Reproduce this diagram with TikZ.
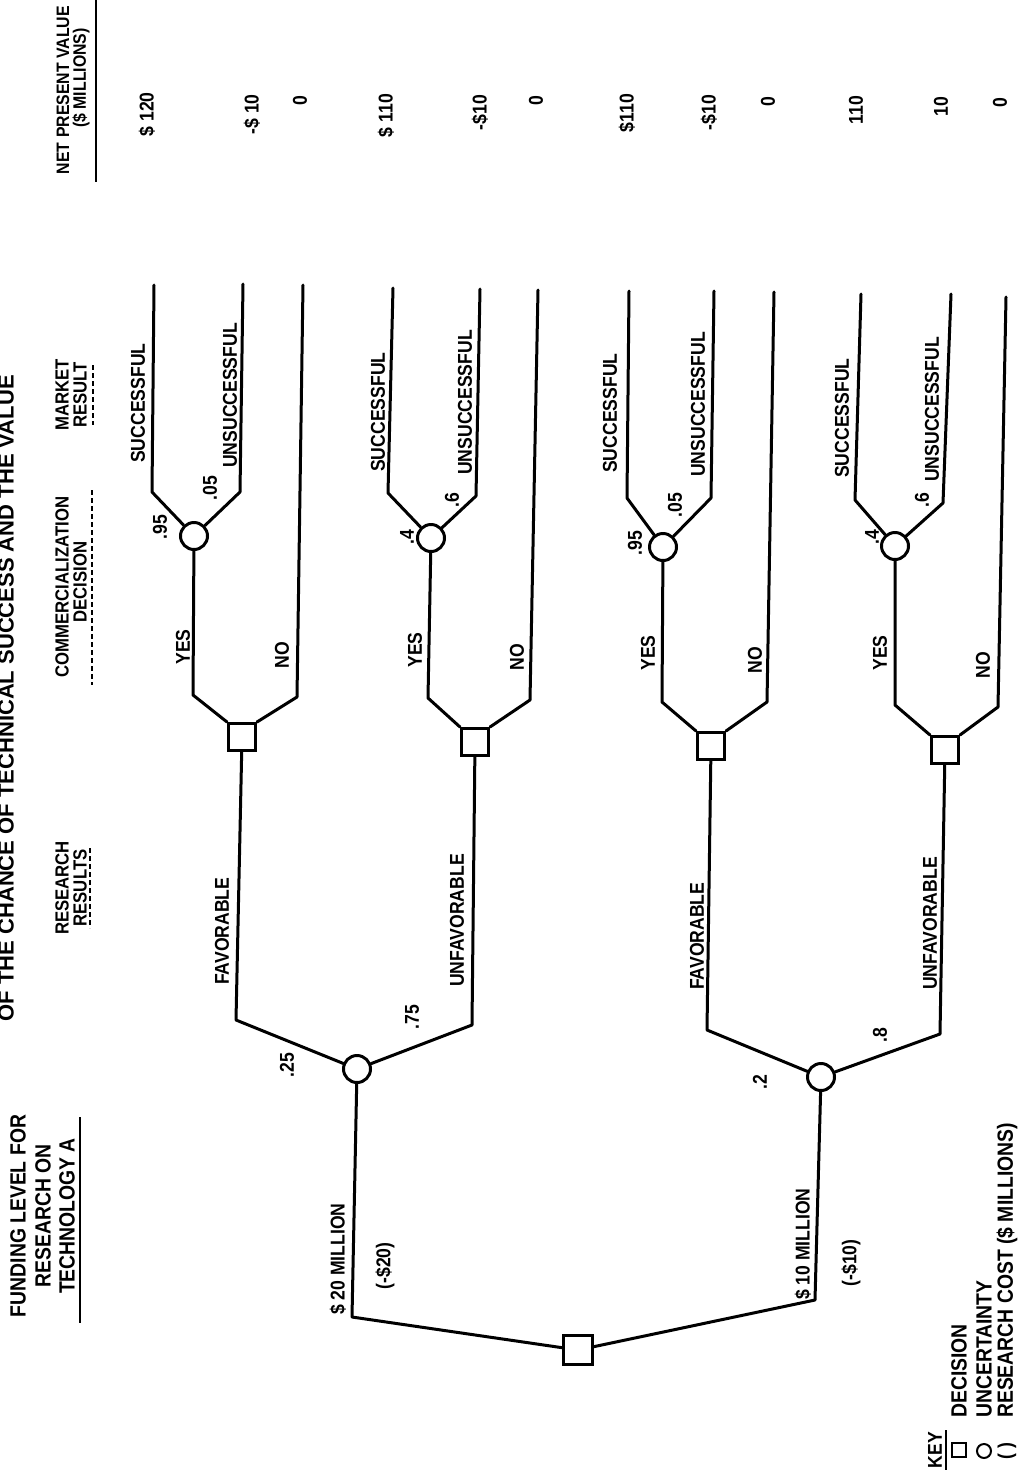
\documentclass[tikz,border=0pt]{standalone}
\usepackage{fontspec}
\newfontfamily\lbl{Liberation Sans}[FakeStretch=0.88]
\newfontfamily\ttl{Liberation Sans}
\begin{document}
\begin{tikzpicture}[x=1pt,y=-1pt,
  ln/.style={line width=3pt,line join=round,line cap=round},
  dec/.style={draw,line width=3pt,minimum size=27pt,inner sep=0pt,fill=white},
  unc/.style={draw,circle,line width=3pt,minimum size=27pt,inner sep=0pt,fill=white},
  txt/.style={rotate=90,inner sep=0pt,font=\lbl\bfseries\fontsize{20}{22}\selectfont},
  hdr/.style={txt,font=\lbl\bfseries\fontsize{19}{21}\selectfont},
  nhdr/.style={txt,font=\lbl\bfseries\fontsize{18}{20}\selectfont},
  fhdr/.style={txt,font=\lbl\bfseries\fontsize{22}{24}\selectfont},
  ttltxt/.style={txt,font=\ttl\bfseries\fontsize{22}{24}\selectfont},
  keytxt/.style={txt,font=\lbl\bfseries\fontsize{22}{24}\selectfont},
  ul/.style={line width=1.5pt},
  dul/.style={line width=1.3pt,dash pattern=on 5pt off 3pt},
]
\useasboundingbox[fill=white] (0,0) rectangle (1023,1473);

% ---- nodes ----
\node[dec,minimum size=29pt] (R) at (578,1350) {};
\node[unc] (A) at (357,1069) {};
\node[unc] (B) at (821,1077) {};
\node[dec] (Q1) at (242,737) {};
\node[dec] (Q2) at (475,742) {};
\node[dec] (Q3) at (711,746) {};
\node[dec] (Q4) at (945,750) {};
\node[unc] (M1) at (194,536) {};
\node[unc] (M2) at (431,538) {};
\node[unc] (M3) at (663,547) {};
\node[unc] (M4) at (895,546) {};

% ---- coordinates ----
\coordinate (a0) at (352,1317);
\coordinate (b0) at (815,1300);
\coordinate (fa) at (236,1020);
\coordinate (ua) at (472,1025);
\coordinate (fb) at (707,1030);
\coordinate (ub) at (940,1034);
\coordinate (y1) at (193,695); \coordinate (n1) at (297,697); \coordinate (n1t) at (303,285);
\coordinate (s1) at (152,492); \coordinate (s1t) at (154,285);
\coordinate (u1) at (240,492); \coordinate (u1t) at (243,284);
\coordinate (y2) at (428,698); \coordinate (n2) at (530,700); \coordinate (n2t) at (538,290);
\coordinate (s2) at (388,493); \coordinate (s2t) at (393,288);
\coordinate (u2) at (476,496); \coordinate (u2t) at (480,289);
\coordinate (y3) at (662,702); \coordinate (n3) at (767,702); \coordinate (n3t) at (774,292);
\coordinate (s3) at (627,498); \coordinate (s3t) at (629,291);
\coordinate (u3) at (711,498); \coordinate (u3t) at (714,291);
\coordinate (y4) at (895,705); \coordinate (n4) at (998,707); \coordinate (n4t) at (1006,297);
\coordinate (s4) at (855,500); \coordinate (s4t) at (861,294);
\coordinate (u4) at (943,503); \coordinate (u4t) at (951,294);

% ---- connectors ----
\draw[ln] (R) -- (a0) -- (A);
\draw[ln] (R) -- (b0) -- (B);
\draw[ln] (A) -- (fa) -- (Q1);
\draw[ln] (A) -- (ua) -- (Q2);
\draw[ln] (B) -- (fb) -- (Q3);
\draw[ln] (B) -- (ub) -- (Q4);
\draw[ln] (Q1.north west) -- (y1) -- (M1);
\draw[ln] (Q1.north east) -- (n1) -- (n1t);
\draw[ln] (M1) -- (s1) -- (s1t);
\draw[ln] (M1) -- (u1) -- (u1t);
\draw[ln] (Q2.north west) -- (y2) -- (M2);
\draw[ln] (Q2.north east) -- (n2) -- (n2t);
\draw[ln] (M2) -- (s2) -- (s2t);
\draw[ln] (M2) -- (u2) -- (u2t);
\draw[ln] (Q3.north west) -- (y3) -- (M3);
\draw[ln] (Q3.north east) -- (n3) -- (n3t);
\draw[ln] (M3) -- (s3) -- (s3t);
\draw[ln] (M3) -- (u3) -- (u3t);
\draw[ln] (Q4.north west) -- (y4) -- (M4);
\draw[ln] (Q4.north east) -- (n4) -- (n4t);
\draw[ln] (M4) -- (s4) -- (s4t);
\draw[ln] (M4) -- (u4) -- (u4t);

% ---- market labels ----
\node[txt,anchor=west] (ls1) at (138,463) {SUCCESSFUL};
\node[txt,anchor=west] (lu1) at (230,468) {UNSUCCESSFUL};
\node[txt] (p11) at (160,527) {.95};
\node[txt] (p12) at (210,488) {.05};
\node[txt] (ly1) at (183,647) {YES};
\node[txt] (ln1) at (282,655) {NO};

\node[txt,anchor=west] (ls2) at (378,472) {SUCCESSFUL};
\node[txt,anchor=west] (lu2) at (465,475) {UNSUCCESSFUL};
\node[txt] (p21) at (407,537) {.4};
\node[txt] (p22) at (452,500) {.6};
\node[txt] (ly2) at (415,650) {YES};
\node[txt] (ln2) at (517,657) {NO};

\node[txt,anchor=west] (ls3) at (610,473) {SUCCESSFUL};
\node[txt,anchor=west] (lu3) at (698,477) {UNSUCCESSFUL};
\node[txt] (p31) at (635,543) {.95};
\node[txt] (p32) at (675,505) {.05};
\node[txt] (ly3) at (648,653) {YES};
\node[txt] (ln3) at (755,660) {NO};

\node[txt,anchor=west] (ls4) at (842,478) {SUCCESSFUL};
\node[txt,anchor=west] (lu4) at (932,482) {UNSUCCESSFUL};
\node[txt] (p41) at (872,537) {.4};
\node[txt] (p42) at (922,500) {.6};
\node[txt] (ly4) at (880,653) {YES};
\node[txt] (ln4) at (983,665) {NO};

% ---- research labels ----
\node[txt,anchor=west] (lfa) at (222,985) {FAVORABLE};
\node[txt,anchor=west] (lua) at (457,987) {UNFAVORABLE};
\node[txt,anchor=west] (lfb) at (697,990) {FAVORABLE};
\node[txt,anchor=west] (lub) at (930,990) {UNFAVORABLE};
\node[txt] (pa1) at (287,1065) {.25};
\node[txt] (pa2) at (412,1017) {.75};
\node[txt] (pb1) at (760,1082) {.2};
\node[txt] (pb2) at (880,1035) {.8};

% ---- funding labels ----
\node[txt,anchor=west] (l20) at (338,1315) {\$ 20 MILLION};
\node[txt] (c20) at (385,1266) {(-\$20)};
\node[txt,anchor=west] (l10) at (803,1300) {\$ 10 MILLION};
\node[txt] (c10) at (851,1263) {(-\$10)};

% ---- NPV values ----
\node[txt,anchor=east] (v1) at (147,92) {\$ 120};
\node[txt,anchor=east] (v2) at (252,94) {-\$ 10};
\node[txt,anchor=east] (v3) at (300,96) {0};
\node[txt,anchor=east] (v4) at (386,94) {\$ 110};
\node[txt,anchor=east] (v5) at (480,95) {-\$10};
\node[txt,anchor=east] (v6) at (536,96) {0};
\node[txt,anchor=east] (v7) at (627,94) {\$110};
\node[txt,anchor=east] (v8) at (709,95) {-\$10};
\node[txt,anchor=east] (v9) at (768,97) {0};
\node[txt,anchor=east] (v10) at (856,96) {110};
\node[txt,anchor=east] (v11) at (941,97) {10};
\node[txt,anchor=east] (v12) at (1000,98) {0};

% ---- headers ----
\node[ttltxt,anchor=south east] (title) at (14,375) {OF THE CHANCE OF TECHNICAL SUCCESS AND THE VALUE};
\node[nhdr,anchor=east] (h5a) at (63,6) {NET PRESENT VALUE};
\node[nhdr] (h5b) at (81,78) {(\$ MILLIONS)};
\draw[ul] (96,0) -- (96,182);
\node[hdr] (h4a) at (62,395) {MARKET};
\node[hdr] (h4b) at (80,395) {RESULT};
\draw[dul] (93,365) -- (93,425);
\node[hdr] (h3a) at (62,587) {COMMERCIALIZATION};
\node[hdr] (h3b) at (80,582) {DECISION};
\draw[dul] (92,490) -- (92,685);
\node[hdr] (h2a) at (62,888) {RESEARCH};
\node[hdr] (h2b) at (80,888) {RESULTS};
\draw[dul] (90,848) -- (90,928);
\node[fhdr] (h1a) at (18,1216) {FUNDING LEVEL FOR};
\node[fhdr] (h1b) at (43,1216) {RESEARCH ON};
\node[fhdr] (h1c) at (67,1216) {TECHNOLOGY A};
\draw[ul] (80,1117) -- (80,1323);

% ---- key ----
\node[txt] (key) at (935,1450) {KEY};
\draw[ul] (946,1430) -- (946,1470);
\node[draw,line width=2pt,minimum size=14pt,inner sep=0pt] (k1) at (959,1450) {};
\node[draw,circle,line width=2pt,minimum size=14pt,inner sep=0pt] (k2) at (984,1451) {};
\node[txt] (k3) at (1007,1451) {( )};
\node[keytxt,anchor=west] (kt1) at (959,1418) {DECISION};
\node[keytxt,anchor=west] (kt2) at (984,1418) {UNCERTAINTY};
\node[keytxt,anchor=west] (kt3) at (1007,1418) {RESEARCH COST (\$ MILLIONS)};
\end{tikzpicture}
\end{document}
